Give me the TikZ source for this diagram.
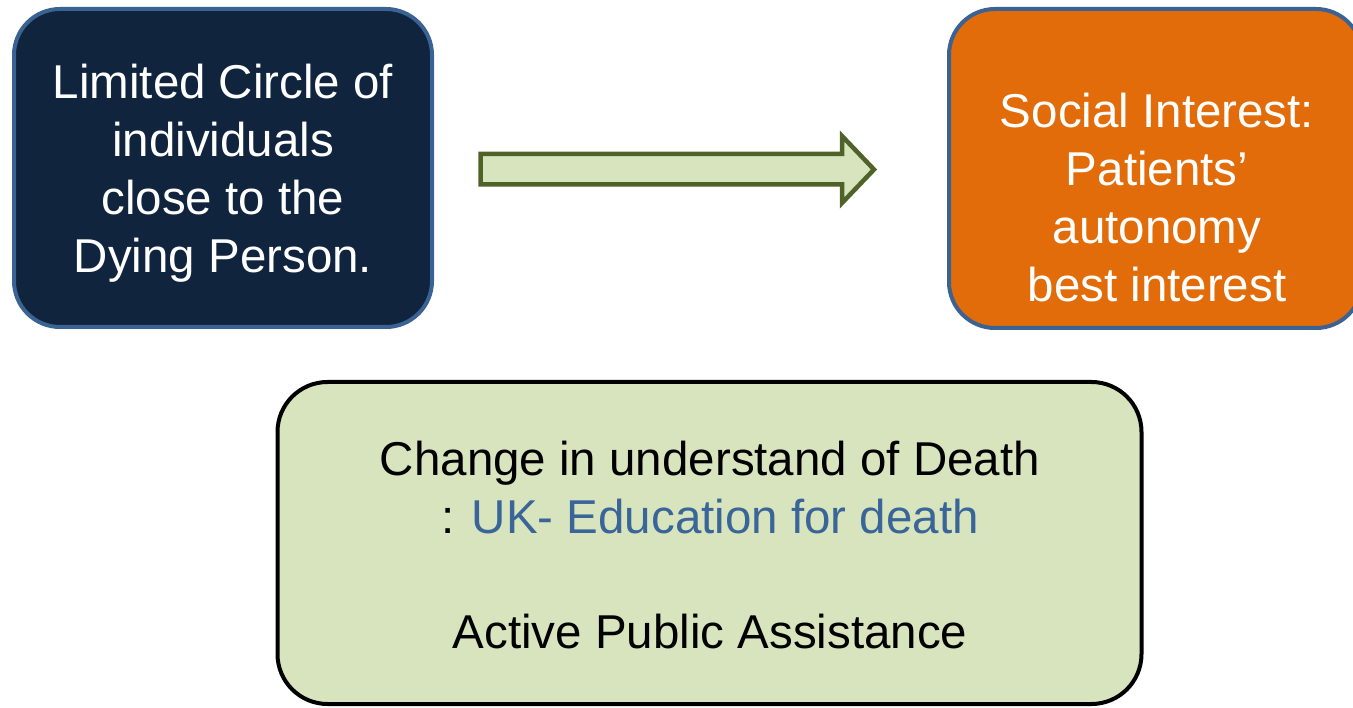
\documentclass[tikz,border=0pt]{standalone}
\usepackage{fontspec}
\setmainfont{Liberation Sans}
\definecolor{navyfill}{HTML}{10243E}
\definecolor{boxedge}{HTML}{3A6293}
\definecolor{orangefill}{HTML}{E36C0A}
\definecolor{greenfill}{HTML}{D7E4BD}
\definecolor{arrowedge}{HTML}{4F6228}
\definecolor{linkblue}{HTML}{3A6598}
\begin{document}
\begin{tikzpicture}[x=1pt,y=-1pt,
  box/.style={rectangle, rounded corners=46pt, line width=4pt, inner sep=0pt},
  txt/.style={anchor=base, inner sep=0pt, font=\fontsize{47.5}{58}\selectfont}]
  \useasboundingbox (0,0) rectangle (1353,708);
  % left box
  \node[box, draw=boxedge, fill=navyfill, minimum width=418pt, minimum height=318pt] (lbox) at (223,168) {};
  \node[txt, text=white] (l1) at (223,99) {Limited Circle of};
  \node[txt, text=white] (l2) at (223,157) {individuals};
  \node[txt, text=white] (l3) at (223,215) {close to the};
  \node[txt, text=white] (l4) at (223,273) {Dying Person.};
  % right box
  \node[box, draw=boxedge, fill=orangefill, minimum width=413pt, minimum height=319pt] (rbox) at (1155.5,168.5) {};
  \node[txt, text=white] (r1) at (1157,128) {Social Interest:};
  \node[txt, text=white] (r2) at (1157,186) {Patients’};
  \node[txt, text=white] (r3) at (1157,244) {autonomy};
  \node[txt, text=white] (r4) at (1157,302) {best interest};
  % block arrow
  \coordinate (a0) at (480.5,154);
  \draw[line width=4.5pt, draw=arrowedge, fill=greenfill, line join=miter]
    (480.5,154) -- (842,154) -- (842,136) -- (874,169.5) -- (842,203) -- (842,184.5) -- (480.5,184.5) -- cycle;
  % bottom box
  \node[box, rounded corners=50pt, draw=black, fill=greenfill, minimum width=864pt, minimum height=322pt] (bbox) at (709.5,543) {};
  \node[txt, text=black] (b1) at (710,476) {Change in understand of Death};
  \node[txt, text=black] (b2) at (710,533.5) {: \textcolor{linkblue}{UK- Education for death}};
  \node[txt, text=black] (b3) at (710,648) {Active Public Assistance};
\end{tikzpicture}
\end{document}
